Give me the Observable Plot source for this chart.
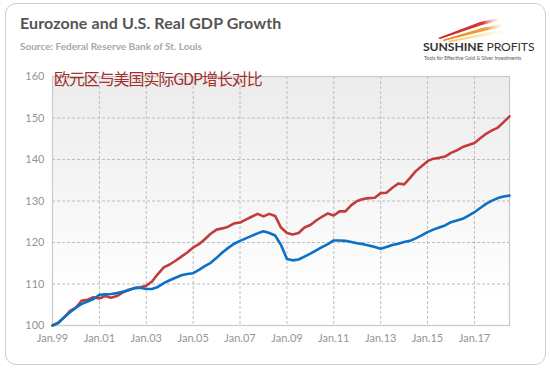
<!DOCTYPE html>
<html>
<head>
<meta charset="utf-8">
<script src="https://cdn.jsdelivr.net/npm/d3@7"></script>
<script src="https://cdn.jsdelivr.net/npm/@observablehq/plot@0.6"></script>
<style>
  html, body { margin: 0; padding: 0; background: #fff; }
  #wrap { position: relative; width: 550px; height: 370px; overflow: hidden; }
  #card { position: absolute; left: 5px; top: 3px; width: 541px; height: 362px; border: 1.5px solid #cfcfcf; border-radius: 11px; box-sizing: border-box; }
  #title { position: absolute; left: 20px; top: 13px; font: bold 16px Lato, "DejaVu Sans", sans-serif; color: #555; letter-spacing: 0.1px; }
  #subtitle { position: absolute; left: 20px; top: 40px; font: bold 10px Lato, sans-serif; color: #a8a8a8; }
  #logo { position: absolute; left: 418px; top: 12px; width: 115px; height: 52px; }
  #logoName { position: absolute; left: 423px; top: 39px; font: 12.2px Lato, sans-serif; color: #333; letter-spacing: -0.1px; }
  #logoTag { position: absolute; left: 424px; top: 55px; font: 5px Lato, sans-serif; color: #555; white-space: nowrap; }
  #bg { position: absolute; left: 52px; top: 76px; width: 457px; height: 249px; background: linear-gradient(to bottom, #ececec 0%, #f5f5f5 45%, #ffffff 90%); }
  #plot { position: absolute; left: 0; top: 60px; }
  #note { position: absolute; left: 54px; top: 66px; font: 16px "Noto Sans CJK SC", sans-serif; color: #a3302f; letter-spacing: -1.1px; white-space: nowrap; }
</style>
</head>
<body>
<div id="wrap">
  <div id="card"></div>
  <div id="title">Eurozone and U.S. Real GDP Growth</div>
  <div id="subtitle">Source: Federal Reserve Bank of St. Louis</div>
  <svg id="logo" viewBox="0 0 115 52">
    <defs>
      <linearGradient id="fr" x1="0" x2="1"><stop offset="0" stop-color="#c8202a"/><stop offset="0.75" stop-color="#d8383a"/><stop offset="1" stop-color="#f3c9b0" stop-opacity="0.2"/></linearGradient>
      <linearGradient id="fo" x1="0" x2="1"><stop offset="0" stop-color="#e9862a"/><stop offset="0.75" stop-color="#f0a040"/><stop offset="1" stop-color="#f7dcae" stop-opacity="0.2"/></linearGradient>
      <linearGradient id="fy" x1="0" x2="1"><stop offset="0" stop-color="#f2c24a"/><stop offset="1" stop-color="#fbeab8" stop-opacity="0.2"/></linearGradient>
    </defs>
    <polygon points="20,26 62,10 80,6 80,9 64,13 22,27" fill="url(#fr)"/>
    <polygon points="24,28 64,16 84,12 84,15 66,19 26,29" fill="url(#fo)"/>
    <polygon points="30,29 66,21 86,18 86,20 68,24 32,30" fill="url(#fy)"/>
  </svg>
  <div id="logoName"><b>SUNSHINE</b> PROFITS</div>
  <div id="logoTag">Tools for Effective Gold &amp; Silver Investments</div>
  <div id="bg"></div>
  <div id="plot"></div>
  <div id="note">欧元区与美国实际GDP增长对比</div>
</div>
<script>
// Quarterly index values (1999 Q1 = 100), 1999Q1 .. 2018Q3
const firstQuarter = "1999-01-01";
const usGDP = [
  100.0, 100.7, 101.9, 103.5,
  104.3, 106.0, 106.2, 106.8,
  106.5, 107.1, 106.7, 107.1,
  108.0, 108.5, 109.0, 109.2,
  109.6, 110.6, 112.4, 114.0,
  114.7, 115.6, 116.6, 117.6,
  118.8, 119.6, 120.8, 122.1,
  123.1, 123.4, 123.8, 124.6,
  124.8, 125.5, 126.2, 126.9,
  126.3, 126.9, 126.4, 123.6,
  122.3, 121.9, 122.3, 123.6,
  124.2, 125.3, 126.2, 127.0,
  126.5, 127.5, 127.5, 129.0,
  130.0, 130.5, 130.7, 130.8,
  131.9, 132.0, 133.2, 134.2,
  134.0, 135.5, 137.2, 138.4,
  139.6, 140.2, 140.4, 140.7,
  141.6, 142.2, 143.0, 143.5,
  144.0, 145.1, 146.2, 147.0,
  147.7, 149.0, 150.4
];
const euroGDP = [
  100.0, 100.6, 102.0, 103.2,
  104.3, 105.2, 105.8, 106.4,
  107.4, 107.5, 107.6, 107.8,
  108.1, 108.6, 109.0, 109.1,
  108.8, 108.8, 109.3, 110.2,
  110.9, 111.5, 112.1, 112.4,
  112.6, 113.4, 114.3, 115.1,
  116.3, 117.6, 118.7, 119.7,
  120.4, 121.0, 121.6, 122.2,
  122.7, 122.3, 121.7, 119.4,
  116.0, 115.7, 115.9, 116.6,
  117.3, 118.1, 118.9, 119.6,
  120.5, 120.5, 120.4, 120.1,
  119.8, 119.6, 119.3, 118.9,
  118.5, 118.9, 119.4, 119.7,
  120.1, 120.4, 121.0, 121.7,
  122.5, 123.1, 123.6, 124.1,
  124.9, 125.3, 125.7, 126.5,
  127.3, 128.3, 129.3, 130.1,
  130.7, 131.1, 131.3
];
const xTickYears = [1999, 2001, 2003, 2005, 2007, 2009, 2011, 2013, 2015, 2017];
const yTicks = [100, 110, 120, 130, 140, 150, 160];
const usColor = "#c23c3b";
const euroColor = "#0a71c6";

const start = new Date(firstQuarter + "T00:00:00Z");
const quarters = d3.utcMonth.every(3).range(start, d3.utcMonth.offset(start, 3 * usGDP.length));
const rows = quarters.map((d, i) => ({date: d, us: usGDP[i], euro: euroGDP[i]}));
const xTicks = xTickYears.map(y => new Date(Date.UTC(y, 0, 1)));

const chart = Plot.plot({
  width: 540,
  height: 295,
  marginLeft: 52,
  marginRight: 31,
  marginTop: 16,
  marginBottom: 30,
  style: {background: "transparent", fontFamily: "Lato, 'Open Sans', sans-serif", fontSize: "11px", color: "#959595"},
  x: {type: "utc", domain: [start, quarters[quarters.length - 1]], ticks: xTicks,
      tickFormat: d => "Jan." + String(d.getUTCFullYear()).slice(2), tickSize: 0, tickPadding: 9, label: null},
  y: {domain: [100, 160], ticks: yTicks, tickSize: 0, tickPadding: 8, label: null},
  marks: [
    Plot.gridX(xTicks, {stroke: "#bdbdbd", strokeOpacity: 1, strokeDasharray: "3,2"}),
    Plot.gridY(yTicks, {stroke: "#bdbdbd", strokeOpacity: 1, strokeDasharray: "3,2"}),
    Plot.frame({stroke: "#c9c9c9", strokeWidth: 1.2}),
    Plot.lineY(rows, {x: "date", y: "us", stroke: usColor, strokeWidth: 2.6}),
    Plot.lineY(rows, {x: "date", y: "euro", stroke: euroColor, strokeWidth: 2.6})
  ]
});
document.getElementById("plot").appendChild(chart);
</script>
</body>
</html>
